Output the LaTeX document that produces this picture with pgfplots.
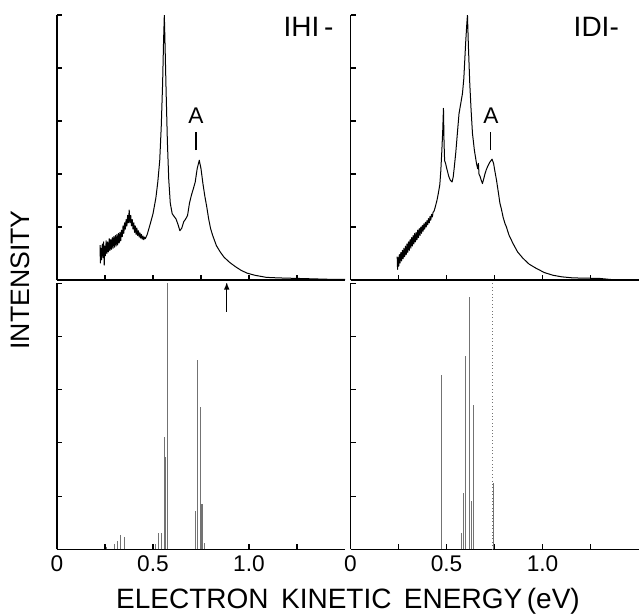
\documentclass[border=0pt]{standalone}
\usepackage{fontspec}
\setmainfont{Liberation Sans}
\usepackage{pgfplots}
\pgfplotsset{compat=1.18}
\newcommand{\tl}[1]{\mbox{\fontsize{17}{17}\selectfont #1}}
\begin{document}
\begin{tikzpicture}
\pgfplotsset{
  panel/.style={
    scale only axis, width=216pt,
    xmin=0, xmax=1.5, ymin=0, ymax=5,
    axis x line*=bottom, axis y line*=left,
    axis line style={line width=1pt, black},
    tick align=inside, tick style={line width=0.8pt, black},
    major tick length=4pt, minor tick length=4pt,
    xtick={0,0.5,1.0}, minor xtick={0.25,0.75,1.25},
    ytick={1,2,3,4,5}, yticklabels={},
  },
  toppanel/.style={panel, height=198.75pt, xticklabels={}},
  botpanel/.style={panel, height=199.5pt,
    xticklabels={\tl{0},\tl{0.5},\tl{1.0}},
    xticklabel style={yshift=-1pt}},
  spec/.style={black, line width=0.75pt, line join=round, mark=none},
  stick/.style={ycomb, black!55, line width=0.55pt, mark=none},
}
\useasboundingbox (0,0) rectangle (479.25pt,-461.25pt);

% ---- top left: IHI- spectrum
\begin{axis}[toppanel, at={(42.75pt,-210pt)}, anchor=south west]
\addplot[spec] coordinates {
(0.224,0.66) (0.226,0.32) (0.228,0.60) (0.232,0.38) (0.236,0.68) (0.240,0.42)
(0.243,0.72) (0.246,0.28) (0.249,0.64) (0.252,0.46) (0.256,0.74) (0.260,0.50)
(0.264,0.72) (0.268,0.53) (0.272,0.78) (0.276,0.56) (0.280,0.76) (0.284,0.58)
(0.288,0.80) (0.292,0.60) (0.296,0.82) (0.300,0.62) (0.304,0.84) (0.308,0.64)
(0.312,0.86) (0.316,0.66) (0.320,0.88) (0.324,0.70) (0.328,0.90) (0.332,0.74)
(0.336,0.94) (0.340,0.82) (0.344,1.02) (0.348,0.88) (0.352,1.08) (0.356,0.96)
(0.360,1.14) (0.364,1.02) (0.368,1.22) (0.372,1.08) (0.376,1.32) (0.380,1.08)
(0.384,1.22) (0.388,1.02) (0.392,1.14) (0.396,0.96) (0.400,1.08) (0.404,0.90)
(0.408,1.02) (0.412,0.86) (0.416,0.98) (0.420,0.84) (0.424,0.93) (0.428,0.81)
(0.432,0.89) (0.436,0.79) (0.440,0.86) (0.444,0.77) (0.448,0.83) (0.452,0.76)
(0.456,0.81) (0.460,0.78) (0.465,0.82) (0.470,0.86) (0.485,1.05) (0.500,1.25)
(0.515,1.55) (0.525,1.85) (0.535,2.25) (0.543,2.90) (0.550,3.70) (0.555,4.50)
(0.559,5.00) (0.563,4.40) (0.568,3.60) (0.575,2.60) (0.582,1.90) (0.590,1.45)
(0.600,1.25) (0.610,1.20) (0.620,1.15) (0.630,1.05) (0.640,0.93) (0.650,0.98)
(0.660,1.10) (0.670,1.15) (0.680,1.22) (0.690,1.45) (0.700,1.60) (0.710,1.72)
(0.720,1.85) (0.730,2.10) (0.741,2.26) (0.750,2.10) (0.760,1.82) (0.770,1.58)
(0.780,1.38) (0.790,1.15) (0.800,0.97) (0.810,0.85) (0.820,0.75) (0.830,0.65)
(0.850,0.53) (0.870,0.43) (0.900,0.33) (0.930,0.25) (0.960,0.18) (0.990,0.13)
(1.030,0.09) (1.090,0.05) (1.150,0.04) (1.250,0.03) (1.350,0.02) (1.450,0.01)
(1.500,0.01)
};
\node[font=\fontsize{17}{17}\selectfont] at (axis cs:0.724,3.1) {A};
\draw[line width=0.8pt] (axis cs:0.724,2.45) -- (axis cs:0.724,2.80);
\node[font=\fontsize{21}{21}\selectfont] at (axis cs:1.31,4.78) {IHI\,-};
\end{axis}

% ---- top right: IDI- spectrum
\begin{axis}[toppanel, at={(262.9pt,-210pt)}, anchor=south west]
\addplot[spec] coordinates {
(0.243,0.44) (0.245,0.20) (0.248,0.42) (0.251,0.26) (0.254,0.48) (0.258,0.32)
(0.262,0.52) (0.266,0.36) (0.270,0.56) (0.274,0.40) (0.278,0.60) (0.282,0.44)
(0.286,0.64) (0.290,0.48) (0.294,0.68) (0.298,0.52) (0.302,0.72) (0.306,0.56)
(0.310,0.76) (0.314,0.60) (0.318,0.80) (0.322,0.64) (0.326,0.84) (0.330,0.68)
(0.334,0.88) (0.338,0.72) (0.342,0.90) (0.346,0.76) (0.350,0.94) (0.354,0.80)
(0.358,0.97) (0.362,0.84) (0.366,1.00) (0.370,0.88) (0.374,1.03) (0.378,0.92)
(0.382,1.06) (0.386,0.96) (0.390,1.09) (0.394,1.00) (0.398,1.12) (0.402,1.04)
(0.406,1.16) (0.410,1.08) (0.414,1.20) (0.418,1.13) (0.422,1.24) (0.426,1.19)
(0.430,1.28) (0.435,1.30) (0.440,1.36) (0.450,1.50) (0.458,1.65) (0.465,1.80)
(0.470,2.05) (0.475,2.40) (0.480,2.80) (0.484,3.24) (0.487,2.60) (0.490,2.25)
(0.495,2.20) (0.500,2.12) (0.505,2.05) (0.512,1.95) (0.520,1.88) (0.529,1.85)
(0.535,1.95) (0.541,2.15) (0.548,2.40) (0.556,2.75) (0.565,3.14) (0.575,3.35)
(0.583,3.52) (0.590,3.80) (0.595,4.15) (0.600,4.50) (0.605,4.80) (0.609,5.00)
(0.614,4.40) (0.621,3.71) (0.628,3.20) (0.635,2.77) (0.645,2.45) (0.656,2.20)
(0.662,2.10) (0.666,2.20) (0.669,2.00) (0.675,1.95) (0.681,1.88) (0.687,1.82)
(0.693,1.90) (0.700,2.00) (0.707,2.08) (0.715,2.15) (0.725,2.22) (0.737,2.28)
(0.745,2.20) (0.752,2.05) (0.760,1.89) (0.770,1.65) (0.778,1.45) (0.785,1.35)
(0.795,1.18) (0.805,1.06) (0.811,1.01) (0.825,0.85) (0.846,0.69) (0.870,0.53)
(0.898,0.41) (0.930,0.30) (0.967,0.22) (1.010,0.14) (1.054,0.09) (1.100,0.06)
(1.157,0.04) (1.220,0.035) (1.296,0.03) (1.340,0.015) (1.383,0.00) (1.500,0.00)
};
\node[font=\fontsize{17}{17}\selectfont] at (axis cs:0.731,3.1) {A};
\draw[line width=0.8pt] (axis cs:0.731,2.45) -- (axis cs:0.731,2.80);
\node[font=\fontsize{21}{21}\selectfont] at (axis cs:1.28,4.78) {IDI-};
\end{axis}

% ---- bottom left: IHI- sticks
\begin{axis}[botpanel, at={(42.75pt,-412pt)}, anchor=south west]
\addplot[stick] coordinates {
(0.259,0.05) (0.300,0.10) (0.315,0.15) (0.328,0.27) (0.349,0.24) (0.510,0.10)
(0.530,0.30) (0.545,0.30) (0.559,2.12) (0.566,1.74) (0.574,5.00)
(0.720,0.72) (0.733,3.56) (0.747,2.68) (0.752,0.86) (0.758,0.86) (0.770,0.11)
};
\draw[-latex, line width=0.9pt] (axis cs:0.884,4.47) -- (axis cs:0.884,5.02);
\end{axis}

% ---- bottom right: IDI- sticks
\begin{axis}[botpanel, at={(262.9pt,-412pt)}, anchor=south west]
\addplot[stick] coordinates {
(0.474,3.28) (0.579,0.30) (0.586,1.05) (0.598,3.63) (0.619,4.75) (0.628,0.90)
(0.638,2.71) (0.745,1.24)
};
\addplot[stick, dotted, line width=0.6pt] coordinates {(0.739,5.00)};
\end{axis}

\node[rotate=90, font=\fontsize{20}{20}\selectfont] at (15pt,-210pt) {INTENSITY};
\node[font=\fontsize{21}{21}\selectfont] at (261pt,-450.75pt) {ELECTRON\, KINETIC\, ENERGY\,(eV)};
\end{tikzpicture}
\end{document}
